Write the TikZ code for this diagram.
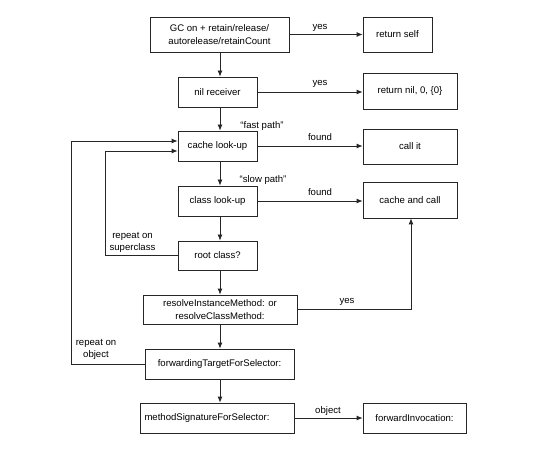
\documentclass[tikz,border=0pt]{standalone}
\usepackage{fontspec}
\setmainfont{Liberation Sans}
\usetikzlibrary{arrows.meta}
\begin{document}
\begin{tikzpicture}[x=1bp,y=-1bp,
  font=\fontsize{9.6}{12.5}\selectfont,
  box/.style={draw=black!85, line width=0.8bp, fill=white, align=center, inner sep=2bp},
  arr/.style={draw=black!85, line width=0.8bp, -{Latex[length=6bp,width=5bp]}},
  lab/.style={inner sep=0pt, align=center}]
\useasboundingbox[fill=white] (0,0) rectangle (540,457);
% boxes
\node[box, minimum width=139bp, minimum height=35bp] (gc) at (219.5,34.5) {GC on + retain/release/\\autorelease/retainCount};
\node[box, minimum width=69bp, minimum height=35bp] (rself) at (397.5,34.5) {return self};
\node[box, minimum width=79bp, minimum height=30bp] (nil) at (217.5,92) {nil receiver};
\node[box, minimum width=94bp, minimum height=36bp] (rnil) at (410,91) {return nil, 0, \{0\}};
\node[box, minimum width=79bp, minimum height=30bp] (cache) at (217.5,146) {cache look-up};
\node[box, minimum width=94bp, minimum height=35bp] (callit) at (410,146.5) {call it};
\node[box, minimum width=79bp, minimum height=30bp] (class) at (217.5,201) {class look-up};
\node[box, minimum width=94bp, minimum height=36bp] (cachecall) at (410,200) {cache and call};
\node[box, minimum width=79bp, minimum height=29bp] (root) at (217.5,255.5) {root class?};
\node[box, minimum width=154bp, minimum height=29bp] (resolve) at (220,309.5) {resolveInstanceMethod: or\\resolveClassMethod:};
\node[box, minimum width=149bp, minimum height=30bp] (fwd) at (219.5,364) {forwardingTargetForSelector:};
\node[box, minimum width=154bp, minimum height=30bp, text width=145bp, align=left, inner sep=4.5bp] (msig) at (217,418) {methodSignatureForSelector:};
\node[box, minimum width=103bp, minimum height=30bp] (finv) at (414.5,418) {forwardInvocation:};
% helper coordinates
\coordinate (vx) at (220,0);
\coordinate (in1) at (105,255.5);
\coordinate (in2) at (105,151);
\coordinate (out1) at (71,364);
\coordinate (out2) at (71,141);
\coordinate (yr) at (411,309.5);
% vertical arrows
\draw[arr] (gc.south -| vx) -- (nil.north -| vx);
\draw[arr] (nil.south -| vx) -- (cache.north -| vx);
\draw[arr] (cache.south -| vx) -- (class.north -| vx);
\draw[arr] (class.south -| vx) -- (root.north -| vx);
\draw[arr] (root.south -| vx) -- (resolve.north -| vx);
\draw[arr] (resolve.south -| vx) -- (fwd.north -| vx);
\draw[arr] (fwd.south -| vx) -- (msig.north -| vx);
% horizontal arrows
\draw[arr] (gc.east) -- (gc.east -| rself.west);
\draw[arr] (nil.east) -- (nil.east -| rnil.west);
\draw[arr] (cache.east) -- (cache.east -| callit.west);
\draw[arr] (class.east) -- (class.east -| cachecall.west);
\draw[arr] (msig.east) -- (msig.east -| finv.west);
% loops
\draw[arr] (root.west) -- (in1) -- (in2) -- (cache.west |- in2);
\draw[arr] (fwd.west) -- (out1) -- (out2) -- (cache.west |- out2);
\draw[arr] (resolve.east) -- (yr) -- (cachecall.south -| yr);
% labels
\node[lab] (l1) at (320,28) {yes};
\node[lab] (l2) at (320,84) {yes};
\node[lab] (l3) at (320,137) {found};
\node[lab] (l4) at (320,192.5) {found};
\node[lab] (l5) at (262,126) {“fast path”};
\node[lab] (l6) at (263,180) {“slow path”};
\node[lab] (l7) at (132.5,242.5) {repeat on\\superclass};
\node[lab] (l8) at (96,349.5) {repeat on\\object};
\node[lab] (l9) at (347,302) {yes};
\node[lab] (l10) at (328,411) {object};
\end{tikzpicture}
\end{document}
